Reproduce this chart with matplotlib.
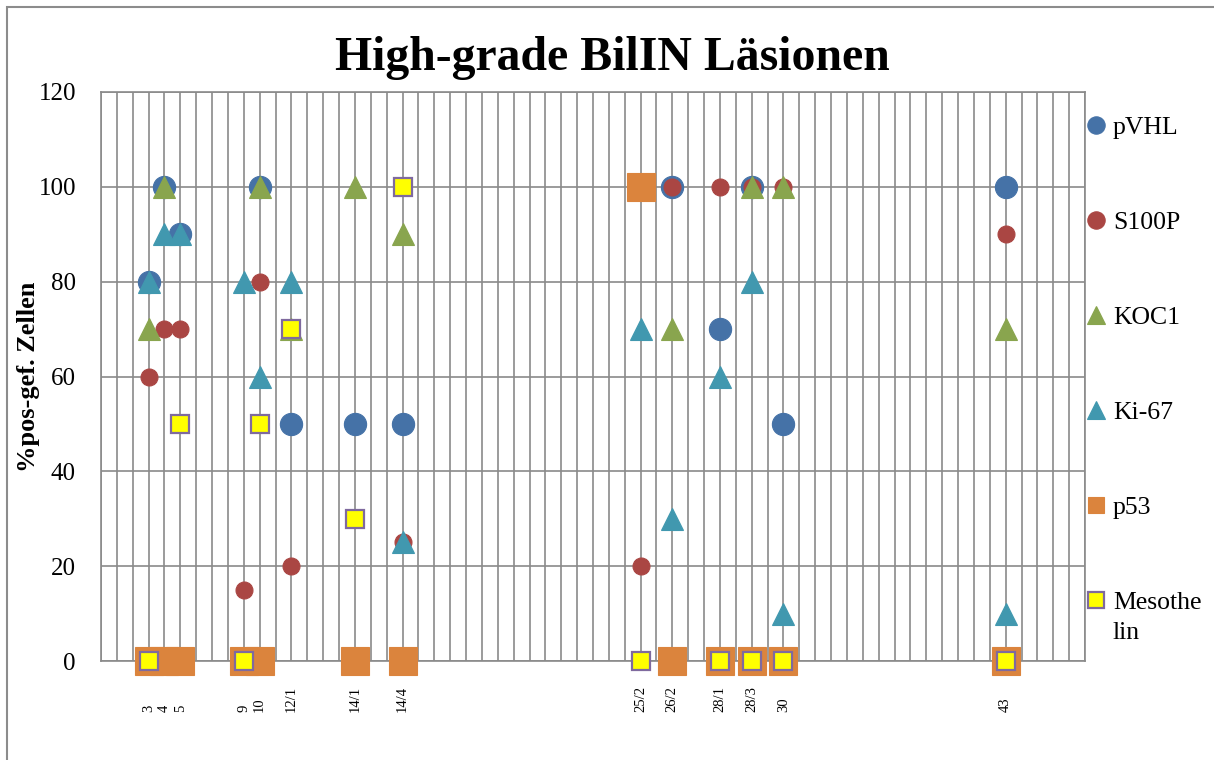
import copy
import numpy as np
import matplotlib
matplotlib.use("Agg")
import matplotlib.pyplot as plt
from matplotlib.patches import Rectangle

plt.rcParams['font.family'] = ['Liberation Serif', 'DejaVu Serif']

# ---- data ----
title = "High-grade BilIN Läsionen"
ylabel = "%pos-gef. Zellen"
n_slots = 63  # category slots on the x axis (most unlabeled)
case_labels = ["3", "4", "5", "9", "10", "12/1", "14/1", "14/4",
               "25/2", "26/2", "28/1", "28/3", "30", "43"]
case_slots = [3, 4, 5, 9, 10, 12, 16, 19, 34, 36, 39, 41, 43, 57]
nan = np.nan
pVHL       = [80, 100, 90, nan, 100, 50, 50, 50, nan, 100, 70, 100, 50, 100]
S100P      = [60, 70, 70, 15, 80, 20, nan, 25, 20, 100, 100, 100, 100, 90]
KOC1       = [70, 100, nan, nan, 100, 70, 100, 90, nan, 70, nan, 100, 100, 70]
Ki67       = [80, 90, 90, 80, 60, 80, nan, 25, 70, 30, 60, 80, 10, 10]
p53        = [0, 0, 0, 0, 0, nan, 0, 0, 100, 0, 0, 0, 0, 0]
Mesothelin = [0, nan, 50, 0, 50, 70, 30, 100, 0, nan, 0, 0, 0, 0]
series_names = ["pVHL", "S100P", "KOC1", "Ki-67", "p53", "Mesothelin"]
y_ticks = [0, 20, 40, 60, 80, 100, 120]

categories = [''] * n_slots
for slot, lab in zip(case_slots, case_labels):
    categories[slot] = lab

# ---- styles ----
styles = [
    dict(marker='o', ms=16.0, mfc='#4572A7', mec='#4572A7', mew=0.8),
    dict(marker='o', ms=12.2, mfc='#AA4643', mec='#AA4643', mew=0.8),
    dict(marker='^', ms=16.0, mfc='#89A54E', mec='#89A54E', mew=0.8),
    dict(marker='^', ms=16.0, mfc='#4198AF', mec='#4198AF', mew=0.8),
    dict(marker='s', ms=20.0, mfc='#DB843D', mec='#DB843D', mew=0.8),
    dict(marker='s', ms=12.5, mfc='#FFFF00', mec='#7F6A9E', mew=1.6),
]
legend_ms = [12.5, 12.5, 12.5, 12.5, 11.5, 11.0]
grid_col = '#8a8a8a'

W, H = 1214, 760
fig = plt.figure(figsize=(W / 100, H / 100), dpi=100)
ax = fig.add_axes([101 / W, 1 - 661 / H, (1085 - 101) / W, (661 - 92) / H])

# outer chart-area border
fig.patches.append(Rectangle((7 / W, -0.1), 1.2, 1 - 7 / H + 0.1,
                             transform=fig.transFigure, fill=False,
                             edgecolor='#8c8c8c', linewidth=1.5))

ax.set_xlim(0, n_slots - 1)
ax.set_ylim(0, 120)
ax.set_xticks(np.arange(n_slots))
ax.set_xticklabels(categories, rotation=90, fontsize=10.5,
                   va='bottom', ha='center')
ax.tick_params(axis='x', length=0, pad=37)
ax.xaxis.grid(True, color=grid_col, linewidth=1.2)
ax.yaxis.grid(True, color=grid_col, linewidth=1.2)
ax.set_axisbelow(True)
for s in ax.spines.values():
    s.set_color(grid_col)
    s.set_linewidth(1.2)

all_series = [pVHL, S100P, KOC1, Ki67, p53, Mesothelin]
handles = []
for vals, st, name in zip(all_series, styles, series_names):
    h, = ax.plot(case_slots, vals, linestyle='none', clip_on=False,
                 zorder=3, label=name, **st)
    handles.append(h)

ax.set_yticks(y_ticks)
ax.set_yticklabels([str(v) for v in y_ticks], fontsize=18)
ax.tick_params(axis='y', length=0, pad=18)

ax.set_ylabel(ylabel, fontsize=19, fontweight='bold')
ax.yaxis.set_label_coords((40 - 101) / (1085 - 101), 0.5)
fig.text(612 / W, 1 - 58 / H, title, fontsize=34.4, fontweight='bold',
         ha='center', va='center')

# legend
leg_handles = []
for h, ms in zip(handles, legend_ms):
    lh = copy.copy(h)
    lh.set_markersize(ms)
    leg_handles.append(lh)
leg_labels = ["pVHL", "S100P", "KOC1", "Ki-67", "p53", "Mesothe"]
leg = fig.legend(leg_handles, leg_labels, loc='upper left',
                 bbox_to_anchor=(1086 / W, 1 - 116 / H), frameon=False,
                 fontsize=18.5, labelspacing=2.8, handlelength=0.8,
                 handletextpad=0.25, borderaxespad=0, borderpad=0)

fig.canvas.draw()
t = leg.get_texts()[-1]
bb = t.get_window_extent()
fig.text(bb.x0 / W, (bb.y0 - 30) / H, "lin", fontsize=18.5,
         ha='left', va='bottom')

fig.savefig("out.png", dpi=100)
